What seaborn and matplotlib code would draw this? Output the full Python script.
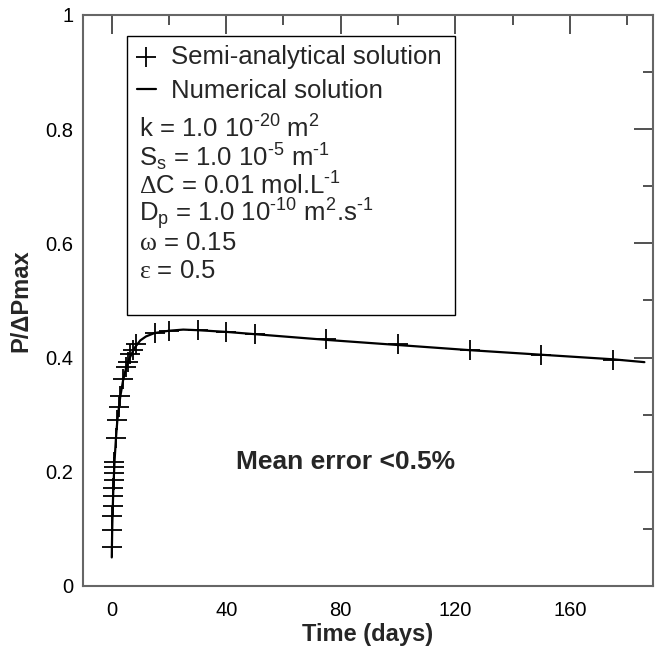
import numpy as np
import matplotlib
matplotlib.use("Agg")
import matplotlib.pyplot as plt
from matplotlib.patches import Rectangle
from matplotlib.ticker import MultipleLocator, FuncFormatter
import seaborn as sns

# Semi-analytical solution (markers)
t_semi = [0.1, 0.2, 0.3, 0.4, 0.5, 0.6, 0.7, 0.8, 0.9, 1.0,
          1.6, 2.0, 2.5, 2.9, 3.9, 4.9, 5.6, 6.4, 7.4, 8.6,
          15, 20, 30, 40, 50, 75, 100, 125, 150, 175]
p_semi = [0.069, 0.098, 0.122, 0.140, 0.158, 0.172, 0.186, 0.198, 0.208, 0.218,
          0.260, 0.291, 0.313, 0.332, 0.362, 0.383, 0.393, 0.406, 0.414, 0.424,
          0.443, 0.447, 0.449, 0.445, 0.442, 0.432, 0.423, 0.413, 0.405, 0.396]

# Numerical solution (line)
t_num = [0.05, 0.1, 0.2, 0.3, 0.5, 0.7, 1.0, 1.5, 2, 3, 4, 5, 6, 8, 10, 12, 15,
         20, 25, 30, 40, 50, 60, 75, 100, 125, 150, 175, 186]
p_num = [0.050, 0.068, 0.097, 0.119, 0.154, 0.182, 0.217, 0.258, 0.290, 0.331,
         0.360, 0.381, 0.396, 0.417, 0.430, 0.437, 0.443, 0.447, 0.449, 0.448,
         0.445, 0.441, 0.437, 0.431, 0.422, 0.413, 0.405, 0.397, 0.392]

param_lines = [
    "k = 1.0 10$^{\\text{-20}}$ m$^{2}$",
    "S$_{s}$ = 1.0 10$^{\\text{-5}}$ m$^{\\text{-1}}$",
    "$\\mathtt{\\Delta}$C = 0.01 mol.L$^{\\text{-1}}$",
    "D$_{p}$ = 1.0 10$^{\\text{-10}}$ m$^{2}$.s$^{\\text{-1}}$",
    "$\\mathtt{\\omega}$ = 0.15",
    "$\\mathtt{\\varepsilon}$ = 0.5",
]

sns.set_theme(style="white")
plt.rcParams['font.family'] = ['Liberation Sans', 'DejaVu Sans']
plt.rcParams['mathtext.fontset'] = 'custom'
plt.rcParams['mathtext.rm'] = 'Liberation Sans'
plt.rcParams['mathtext.it'] = 'Liberation Sans:italic'
plt.rcParams['mathtext.bf'] = 'Liberation Sans:bold'
plt.rcParams['mathtext.tt'] = 'Liberation Serif'
plt.rcParams['mathtext.default'] = 'regular'

fig = plt.figure(figsize=(6.57, 6.48), dpi=100)
ax = fig.add_axes([0.1263, 0.0957, 0.8676, 0.8812])

sns.lineplot(x=t_num, y=p_num, color="black", linewidth=1.6, ax=ax,
             label="Numerical solution", sort=False)
sns.scatterplot(x=t_semi, y=p_semi, marker="+", s=190, color="black",
                linewidth=1.3, ax=ax, label="Semi-analytical solution", zorder=3)

ax.set_xlim(-10, 189)
ax.set_ylim(0, 1)

ax.xaxis.set_major_locator(MultipleLocator(40))
ax.xaxis.set_minor_locator(MultipleLocator(20))
ax.yaxis.set_major_locator(MultipleLocator(0.2))
ax.yaxis.set_minor_locator(MultipleLocator(0.1))
ax.yaxis.set_major_formatter(FuncFormatter(lambda v, _: f"{v:g}"))

ax.tick_params(which="both", direction="in", top=True, right=True,
               colors="#222222", labelcolor="black", labelsize=14.5)
ax.tick_params(which="major", length=14, width=1.1)
ax.tick_params(which="minor", length=7, width=1.1)
ax.tick_params(axis="x", which="major", pad=11)
ax.tick_params(axis="y", which="major", pad=7)
for s in ax.spines.values():
    s.set_color("#666666")
    s.set_linewidth(1.5)

ax.set_xlabel("Time (days)", fontsize=17, fontweight="bold", labelpad=2)
ax.set_ylabel("P/\u0394Pmax", fontsize=17, fontweight="bold", labelpad=9)

# legend box with the parameter list
ax.add_patch(Rectangle((0.077, 0.475), 0.576, 0.488, transform=ax.transAxes,
                       fill=False, edgecolor="black", linewidth=1.0, zorder=4))
handles, labels = ax.get_legend_handles_labels()
order = [1, 0]
ax.legend([handles[i] for i in order], [labels[i] for i in order],
          loc="upper left", bbox_to_anchor=(0.094, 0.948), frameon=False,
          fontsize=18.5, borderpad=0, borderaxespad=0, handlelength=0.75,
          handletextpad=0.6, labelspacing=0.42)

y0 = 0.80
for i, line in enumerate(param_lines):
    ax.text(0.098, y0 - i * 0.0497, line, transform=ax.transAxes,
            fontsize=18.5, ha="left", va="center")

ax.text(0.46, 0.217, "Mean error <0.5%", transform=ax.transAxes,
        fontsize=19, fontweight="bold", ha="center", va="center")

fig.savefig("out.png", dpi=100)
